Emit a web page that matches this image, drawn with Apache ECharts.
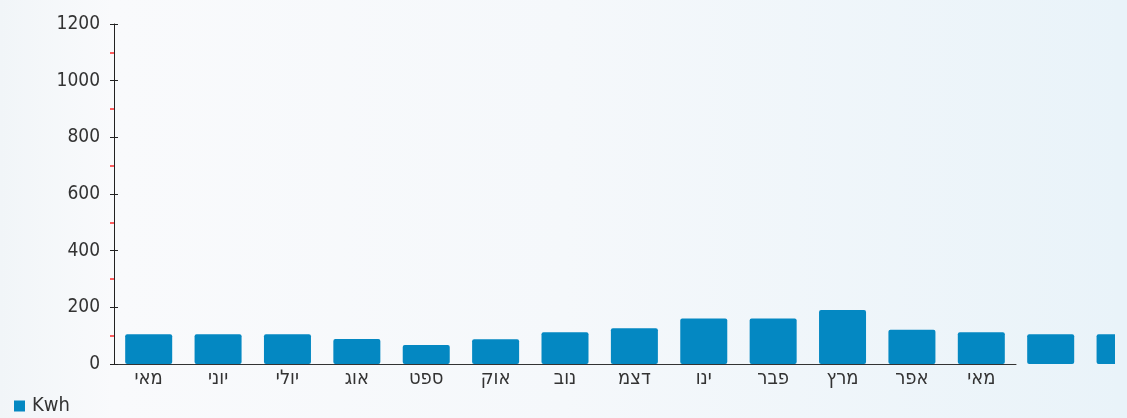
<!DOCTYPE html>
<html style="height: 100%">
<head>
    <meta charset="utf-8">
    <script src="https://cdn.jsdelivr.net/npm/echarts@6/dist/echarts.min.js"></script>
</head>
<body style="height: 100%; margin: 0">
    <div id="main" style="width: 1127px; height: 418px"></div>
    <script type="text/javascript">
        // month labels under the axis (only 13 are labelled)
        var months = ['מאי', 'יוני', 'יולי', 'אוג', 'ספט', 'אוק', 'נוב', 'דצמ', 'ינו', 'פבר', 'מרץ', 'אפר', 'מאי'];
        // 15 bars: the two last ones run past the end of the axis, unlabelled
        var kwh = [105, 105, 105, 88, 67, 87, 112, 126, 161, 161, 191, 121, 112, 105, 105];
        var yTicks = [0, 200, 400, 600, 800, 1000, 1200];

        var font = 'DejaVu Sans Condensed';
        var axisLeft = 114, axisRight = 1016, barsRight = 1115;
        // width of one month slot on the labelled axis
        var band = (axisRight - axisLeft) / months.length;

        var myChart = echarts.init(document.getElementById('main'));
        myChart.setOption({
            backgroundColor: new echarts.graphic.LinearGradient(0, 0, 1, 0, [
                { offset: 0, color: '#f1f5f8' },
                { offset: 0.1, color: '#f9fafc' },
                { offset: 0.5, color: '#f5f8fb' },
                { offset: 1, color: '#e9f3f9' }
            ]),
            textStyle: { fontFamily: font },
            legend: {
                left: 9,
                bottom: -3,
                icon: 'rect',
                itemWidth: 11,
                itemHeight: 11,
                itemGap: 5,
                textStyle: { fontSize: 20, color: '#333', fontFamily: font, padding: [0, 0, 0, 2] },
                data: ['Kwh']
            },
            grid: [
                { left: axisLeft, top: 24, bottom: 54, right: 1127 - axisRight },
                { left: axisLeft, top: 24, bottom: 54, right: 1127 - barsRight }
            ],
            xAxis: [
                {
                    type: 'category',
                    gridIndex: 0,
                    data: months,
                    axisLine: { lineStyle: { color: '#333', width: 1 } },
                    axisTick: { show: false },
                    axisLabel: { color: '#333', fontSize: 20, margin: 5, fontFamily: font }
                },
                {
                    // same slot width as the labelled axis, continued up to the clip edge
                    type: 'value',
                    gridIndex: 1,
                    min: -0.5,
                    max: -0.5 + (barsRight - axisLeft) / band,
                    show: false
                }
            ],
            yAxis: [
                {
                    type: 'value',
                    gridIndex: 0,
                    min: yTicks[0],
                    max: yTicks[yTicks.length - 1],
                    interval: 200,
                    axisLine: { show: true, lineStyle: { color: '#222' } },
                    axisTick: { show: true, length: 4, lineStyle: { color: '#222' } },
                    minorTick: { show: true, splitNumber: 2, length: 4, lineStyle: { color: '#ff2a2a', width: 1.5 } },
                    splitLine: { show: false },
                    axisLabel: {
                        color: '#333', fontSize: 19, margin: 14, fontFamily: font,
                        formatter: function (v) { return String(v); }
                    }
                },
                {
                    type: 'value',
                    gridIndex: 0,
                    min: 0,
                    max: 1200,
                    interval: 200,
                    position: 'left',
                    axisLine: { show: false },
                    axisTick: { show: true, inside: true, length: 4, lineStyle: { color: '#222' } },
                    axisLabel: { show: false },
                    splitLine: { show: false }
                },
                {
                    type: 'value',
                    gridIndex: 1,
                    min: 0,
                    max: 1200,
                    show: false
                }
            ],
            graphic: [
                {
                    // the original picture is cut off here
                    type: 'rect',
                    right: 0,
                    top: 0,
                    z: 100,
                    shape: { width: 1127 - barsRight, height: 418 },
                    style: { fill: '#e9f3f9' }
                }
            ],
            series: [
                {
                    name: 'Kwh',
                    type: 'bar',
                    xAxisIndex: 1,
                    yAxisIndex: 2,
                    clip: true,
                    data: kwh.map(function (v, i) { return [i, v]; }),
                    barWidth: 47,
                    itemStyle: { color: '#0488c2', borderRadius: 2 }
                }
            ]
        });
    </script>
</body>
</html>
